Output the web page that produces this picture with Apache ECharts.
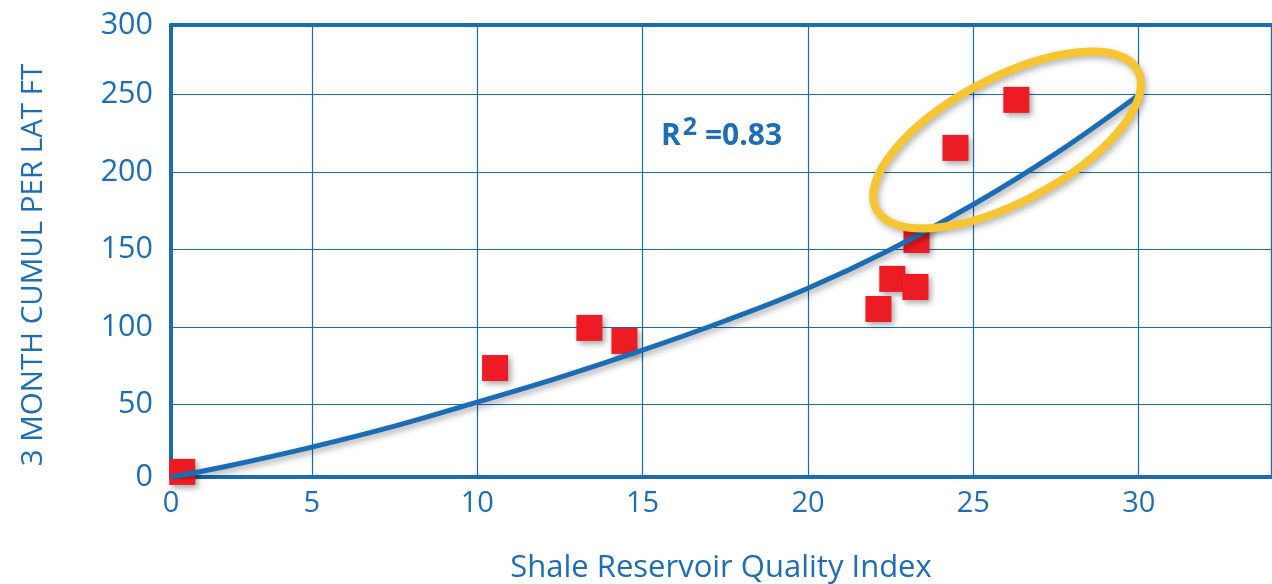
<!DOCTYPE html>
<html>
<head>
<meta charset="utf-8">
<script src="https://cdn.jsdelivr.net/npm/echarts@6/dist/echarts.min.js"></script>
<style>
  html, body { margin: 0; padding: 0; background: #fff; }
  #chart { width: 1272px; height: 584px; }
</style>
</head>
<body>
<div id="chart"></div>
<script>
// scatter points [quality index, 3 month cumul]
const wellPoints = [
  [1.08, 6.5],
  [10.54, 73.5],
  [13.39, 99.4],
  [14.45, 91.0],
  [23.28, 156.1],
  [22.55, 131.0],
  [23.25, 125.8],
  [22.13, 111.6],
  [24.46, 215.5],
  [26.30, 246.5]
]

// trend curve
const trendPoints = [
  [0.75, 3.2], [2.5, 10.5], [5, 22.5], [7.5, 36], [10, 51.5], [12.5, 67.5],
  [15, 85], [17.5, 104], [20, 125], [22.5, 150], [25, 179],
  [27.5, 212], [30, 249.7]
]

// visible axis window (labels at the corner read "0")
const xRange = [0.74, 34.0]
const yRange = [3.2, 294.8]

// highlight ellipse centre (data coords)
const ellipseCenter = [26.02, 220.6]

const blue = '#1a6db5'
const textBlue = '#1d6eb5'
const font = 'Open Sans'

const chart = echarts.init(document.getElementById('chart'))

const labelFmt = (v, lo) => (Math.abs(v - lo) < 1 ? '0' : String(Math.round(v)))

chart.setOption({
  animation: false,
  grid: { left: 171, right: 1, top: 25, bottom: 107, outerBoundsMode: 'none' },
  xAxis: [{
    type: 'value',
    min: xRange[0],
    max: xRange[1],
    splitNumber: 7,
    name: 'Shale Reservoir Quality Index',
    nameLocation: 'middle',
    nameGap: 76,
    nameTextStyle: { fontFamily: font, fontSize: 31, color: textBlue },
    axisLine: { show: true, onZero: false, lineStyle: { color: blue, width: 4 } },
    axisTick: { show: false },
    axisLabel: {
      fontFamily: font, fontSize: 29, color: textBlue, margin: 12,
      showMaxLabel: false,
      formatter: v => labelFmt(v, xRange[0])
    },
    splitLine: { show: true, lineStyle: { color: blue, width: 1.2 } }
  }, {
    type: 'value',
    position: 'top',
    min: xRange[0],
    max: xRange[1],
    axisLine: { show: true, onZero: false, lineStyle: { color: blue, width: 4 } },
    axisTick: { show: false },
    axisLabel: { show: false },
    splitLine: { show: false }
  }],
  yAxis: [{
    type: 'value',
    min: yRange[0],
    max: yRange[1],
    splitNumber: 6,
    name: '3 MONTH CUMUL PER LAT FT',
    nameLocation: 'middle',
    nameGap: 122,
    nameTextStyle: { fontFamily: font, fontSize: 29.5, color: textBlue, padding: [0, 28, 0, 0] },
    axisLine: { show: true, onZero: false, lineStyle: { color: blue, width: 4 } },
    axisTick: { show: false },
    axisLabel: {
      fontFamily: font, fontSize: 30.5, color: textBlue, margin: 18,
      formatter: v => (v > 290 ? '300' : labelFmt(v, yRange[0]))
    },
    splitLine: { show: true, lineStyle: { color: blue, width: 1.2 } }
  }, {
    type: 'value',
    position: 'right',
    min: yRange[0],
    max: yRange[1],
    axisLine: { show: true, onZero: false, lineStyle: { color: blue, width: 1.2 } },
    axisTick: { show: false },
    axisLabel: { show: false },
    splitLine: { show: false }
  }],
  series: [{
    name: 'wells',
    type: 'scatter',
    symbol: 'rect',
    symbolSize: 26,
    clip: false,
    z: 2,
    data: wellPoints,
    itemStyle: {
      color: '#ed1c24',
      opacity: 1,
      shadowColor: 'rgba(0,0,0,0.35)',
      shadowBlur: 6,
      shadowOffsetX: 3,
      shadowOffsetY: 3
    }
  }, {
    name: 'trend',
    type: 'line',
    smooth: 0.4,
    symbol: 'none',
    z: 3,
    data: trendPoints,
    lineStyle: {
      color: blue,
      width: 5,
      shadowColor: 'rgba(0,0,0,0.35)',
      shadowBlur: 6,
      shadowOffsetX: 2,
      shadowOffsetY: 3
    }
  }]
})

// ellipse and R² note placed from data coords
const c = chart.convertToPixel({ gridIndex: 0 }, ellipseCenter)
chart.setOption({
  graphic: [{
    type: 'ellipse',
    x: c[0],
    y: c[1],
    rotation: 28 * Math.PI / 180,
    shape: { cx: 0, cy: 0, rx: 148, ry: 62 },
    style: {
      fill: 'none',
      stroke: '#f7c531',
      lineWidth: 8,
      shadowColor: 'rgba(0,0,0,0.3)',
      shadowBlur: 6,
      shadowOffsetX: 2,
      shadowOffsetY: 3
    },
    z: 100
  }, {
    type: 'text',
    left: 661,
    top: 115,
    style: {
      text: '{r|R}{s|2}{e| =0.83}',
      rich: {
        r: { fontFamily: font, fontWeight: 'bold', fontSize: 30, fill: textBlue, verticalAlign: 'bottom', lineHeight: 36 },
        s: { fontFamily: font, fontWeight: 'bold', fontSize: 25, fill: textBlue, verticalAlign: 'top', lineHeight: 36, padding: [0, 0, 0, 2] },
        e: { fontFamily: font, fontWeight: 'bold', fontSize: 30, fill: textBlue, verticalAlign: 'bottom', lineHeight: 36 }
      }
    },
    z: 100
  }]
})
</script>
</body>
</html>
